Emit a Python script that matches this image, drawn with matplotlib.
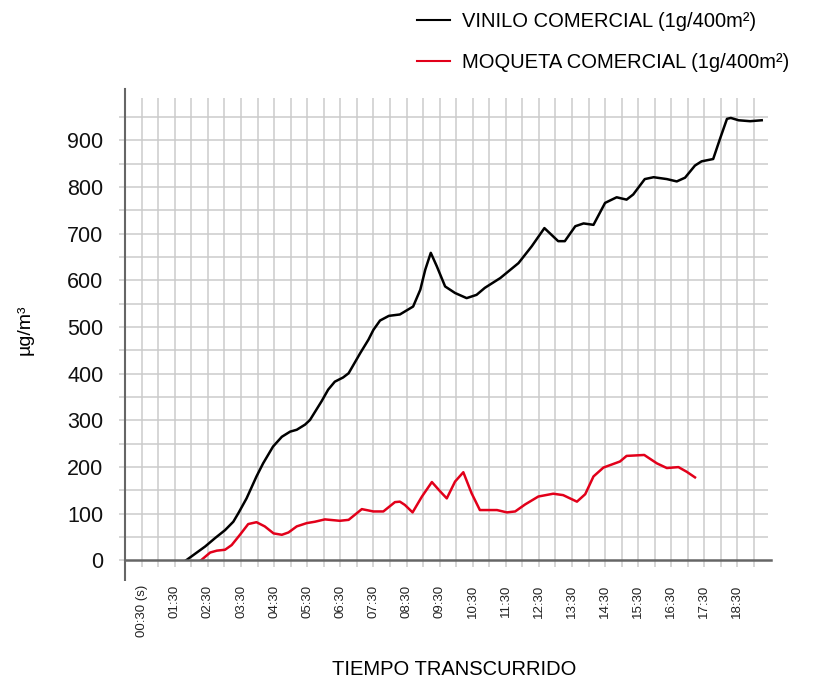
import matplotlib
matplotlib.use("Agg")
import matplotlib.pyplot as plt
import numpy as np

plt.rcParams['font.family'] = ['Liberation Sans', 'DejaVu Sans']

# tiempo en segundos, valores en ug/m3
vinilo_t = [110, 145, 163, 181, 196, 205, 220, 238, 250, 268,
            284, 299, 311, 326, 335, 356, 368, 380, 395, 405,
            426, 441, 450, 462, 478, 498, 522, 535, 544, 554,
            565, 580, 598, 619, 637, 652, 680, 713, 737, 760,
            785, 797, 816, 831, 849, 870, 891, 909, 921, 942,
            958, 982, 1000, 1015, 1033, 1045, 1066, 1078, 1091, 1098,
            1112, 1133, 1154]
vinilo_v = [0, 30, 48, 65, 83, 101, 133, 180, 208, 244,
            265, 276, 280, 291, 301, 341, 366, 383, 392, 401,
            444, 473, 494, 514, 524, 527, 544, 580, 623, 659,
            630, 587, 573, 562, 569, 584, 605, 637, 673, 712,
            684, 684, 716, 722, 719, 766, 778, 773, 784, 817,
            821, 817, 812, 820, 846, 855, 860, 902, 946, 948,
            943, 941, 943]

moqueta_t = [137, 154, 166, 181, 193, 208, 223, 238, 253, 269,
             284, 296, 311, 329, 344, 362, 389, 405, 429, 450,
             468, 489, 498, 507, 521, 538, 556, 571, 583, 598,
             613, 628, 643, 674, 692, 707, 725, 749, 776, 794,
             819, 834, 849, 867, 897, 909, 941, 964, 982, 1003,
             1018, 1033]
moqueta_v = [0, 17, 21, 23, 33, 55, 78, 82, 73, 58,
             55, 60, 73, 80, 83, 88, 85, 87, 110, 105,
             105, 125, 126, 119, 103, 137, 168, 148, 133, 169,
             189, 144, 108, 108, 103, 105, 120, 137, 143, 140,
             126, 142, 180, 199, 212, 224, 226, 208, 198, 200,
             190, 178]

x_ticks = list(range(30, 1140, 60))
x_labels = ["00:30 (s)"] + ["%02d:30" % (s // 60) for s in x_ticks[1:]]
y_ticks = list(range(0, 1000, 100))

GRID = "#cbcbcb"
AXIS = "#666666"
RED = "#e2001a"

fig = plt.figure(figsize=(8.37, 6.84), dpi=100)
ax = fig.add_axes([0.1496, 0.1806, 0.771, 0.6893])
ax.set_xlim(0, 1170)
ax.set_ylim(0, 1010)

# rejilla
ax.vlines(np.arange(30, 1170, 30), 0, 990, color=GRID, lw=1.1, zorder=0)
ax.hlines(np.arange(50, 1000, 50), 0, 1165, color=GRID, lw=1.1, zorder=0)

ax.plot(vinilo_t, vinilo_v, color="black", lw=1.8, label="VINILO COMERCIAL (1g/400m²)",
        solid_joinstyle="round", zorder=3)
ax.plot(moqueta_t, moqueta_v, color=RED, lw=1.8, label="MOQUETA COMERCIAL (1g/400m²)",
        solid_joinstyle="round", zorder=3)

for s in ["top", "right"]:
    ax.spines[s].set_visible(False)
ax.spines["left"].set_color(AXIS)
ax.spines["left"].set_linewidth(1.5)
ax.spines["bottom"].set_color(AXIS)
ax.spines["bottom"].set_linewidth(1.8)
ax.spines["bottom"].set_zorder(4)
ax.plot([0, 0], [0, -21 / 471.5], transform=ax.transAxes, color=AXIS, lw=1.5,
        clip_on=False, solid_capstyle="butt")

ax.set_xticks(x_ticks)
ax.set_xticklabels(x_labels, rotation=90, fontsize=9.5, color="#222222")
ax.set_xticks(list(range(60, 1170, 60)), minor=True)
ax.tick_params(axis="x", which="both", length=5, width=1.1, color=GRID, pad=12.5)

ax.set_yticks(y_ticks)
ax.set_yticklabels([str(v) for v in y_ticks], fontsize=15.5, color="#111111")
ax.set_yticks(list(range(50, 1000, 100)), minor=True)
ax.tick_params(axis="y", which="both", length=4.3, width=1.1, color=GRID, pad=11.5)

ax.set_ylabel("µg/m³", fontsize=14)
ax.yaxis.set_label_coords(-0.142, 0.49)
ax.set_xlabel("TIEMPO TRANSCURRIDO", fontsize=14.5)
ax.xaxis.set_label_coords(0.51, -0.212)

leg = ax.legend(loc="upper left", bbox_to_anchor=(417 / 837, 1 - 12 / 684),
                bbox_transform=fig.transFigure, frameon=False, fontsize=14.5,
                handlelength=1.65, handletextpad=0.6, labelspacing=1.1,
                borderpad=0, borderaxespad=0)
for ln in leg.get_lines():
    ln.set_linewidth(1.5)

fig.savefig("out.png", dpi=100)
